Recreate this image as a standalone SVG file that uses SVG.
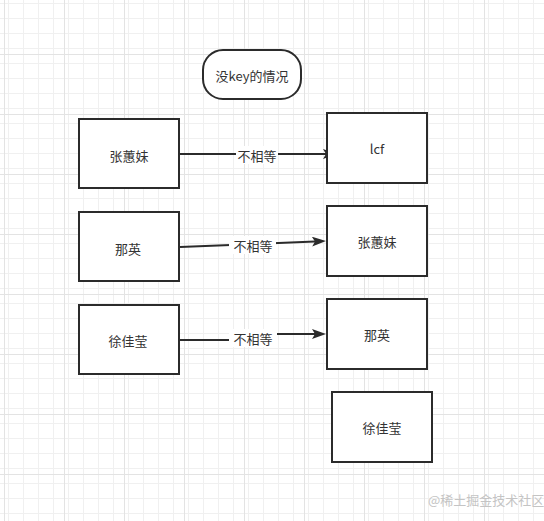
<svg xmlns="http://www.w3.org/2000/svg" width="544" height="521" viewBox="0 0 544 521">
<style>
.box{fill:#ffffff;stroke:#2b2b2b;stroke-width:2}
.t{font-family:"Noto Sans CJK SC","Noto Sans",sans-serif;font-size:13px;fill:#333333;text-anchor:middle;dominant-baseline:central}
.edge{fill:none;stroke:#2b2b2b;stroke-width:2}
.lbg{fill:#ffffff}
.wm{font-family:"Noto Sans CJK SC","Noto Sans",sans-serif;font-size:13px;fill:#c4c4c4}
</style>
<defs>
<pattern id="minor" x="4" y="-6" width="15" height="15" patternUnits="userSpaceOnUse">
<path d="M0.5,0 V15 M0,0.5 H15" stroke="#f0f0f0" stroke-width="1" fill="none"/>
</pattern>
<pattern id="major" x="4" y="-6" width="60" height="60" patternUnits="userSpaceOnUse">
<rect width="60" height="60" fill="url(#minor)"/>
<path d="M0.5,0 V60 M0,0.5 H60" stroke="#e3e3e3" stroke-width="1" fill="none"/>
</pattern>
<marker id="arr" viewBox="0 0 14 10" refX="3" refY="5" markerWidth="14" markerHeight="10" markerUnits="userSpaceOnUse" orient="auto">
<path d="M0,0 L14,5 L0,10 L3,5 Z" fill="#2b2b2b"/>
</marker>
</defs>
<rect width="544" height="521" fill="#ffffff"/>
<rect width="544" height="521" fill="url(#major)"/>

<g id="connectors">
<g id="e1">
<path class="edge" d="M180,154 L326,154" marker-end="url(#arr)"/>
<rect class="lbg" x="236" y="146" width="42" height="18"/>
<text class="t" x="257" y="155">不相等</text>
</g>
<g id="e2">
<path class="edge" d="M180,247 L315,241.5" marker-end="url(#arr)"/>
<rect class="lbg" x="229" y="236" width="47" height="18"/>
<text class="t" x="253" y="245">不相等</text>
</g>
<g id="e3">
<path class="edge" d="M180,340 L240,340 L266,334 L315,334" marker-end="url(#arr)"/>
<rect class="lbg" x="229" y="329" width="48" height="18"/>
<text class="t" x="253" y="338">不相等</text>
</g>
</g>

<g id="title">
<rect class="box" x="203" y="50" width="98" height="49" rx="20" ry="20"/>
<text class="t" x="252" y="75">没key的情况</text>
</g>
<g id="l1">
<rect class="box" x="79" y="119" width="100" height="69"/>
<text class="t" x="129" y="155">张蕙妹</text>
</g>
<g id="l2">
<rect class="box" x="79" y="212" width="100" height="69"/>
<text class="t" x="128" y="248">那英</text>
</g>
<g id="l3">
<rect class="box" x="79" y="305" width="100" height="69"/>
<text class="t" x="128" y="340">徐佳莹</text>
</g>
<g id="r1">
<rect class="box" x="327" y="113" width="100" height="70"/>
<text class="t" x="377" y="148">lcf</text>
</g>
<g id="r2">
<rect class="box" x="327" y="206" width="100" height="70"/>
<text class="t" x="377" y="241.5">张蕙妹</text>
</g>
<g id="r3">
<rect class="box" x="327" y="299" width="100" height="70"/>
<text class="t" x="377" y="334">那英</text>
</g>
<g id="r4">
<rect class="box" x="332" y="392" width="100" height="70"/>
<text class="t" x="382" y="427.5">徐佳莹</text>
</g>
<text class="wm" x="428" y="505">@稀土掘金技术社区</text>
</svg>
